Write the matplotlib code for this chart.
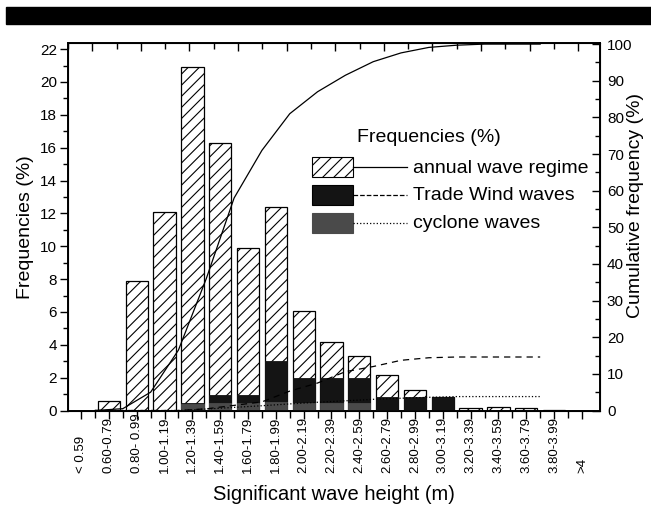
import matplotlib
matplotlib.use("Agg")
from matplotlib import pyplot as plt
from matplotlib.patches import Rectangle
from matplotlib.lines import Line2D
from matplotlib.ticker import MultipleLocator
import numpy as np

plt.rcParams['font.family'] = ['Liberation Sans', 'DejaVu Sans']
plt.rcParams['hatch.linewidth'] = 0.8

# wave height classes (m)
classes = ['< 0.59', '0.60-0.79', '0.80- 0.99', '1.00-1.19', '1.20-1.39',
           '1.40-1.59', '1.60-1.79', '1.80-1.99', '2.00-2.19', '2.20-2.39',
           '2.40-2.59', '2.60-2.79', '2.80-2.99', '3.00-3.19', '3.20-3.39',
           '3.40-3.59', '3.60-3.79', '3.80-3.99', '>4']

# frequencies (%)
annual = [0, 0.55, 7.9, 12.1, 20.9, 16.3, 9.9, 12.4, 6.05, 4.2, 3.3,
          2.15, 1.25, 0.85, 0.18, 0.22, 0.15, 0.05, 0]
trade = [0, 0, 0, 0, 0.45, 0.95, 0.95, 3.0, 1.95, 1.95, 1.95,
         0.85, 0.85, 0.85, 0, 0, 0, 0, 0]
cyclone = [0, 0, 0, 0, 0.4, 0.45, 0.45, 0.5, 0.45, 0.45, 0.45,
           0.05, 0.05, 0, 0, 0, 0, 0, 0]

# cumulative frequency (%) at upper class limits (class index + 0.5)
cum_idx = [0.5, 1.5, 2.5, 3.5, 4.5, 5.5, 6.5, 7.5, 8.5, 9.5, 10.5,
           11.5, 12.5, 13.5, 14.5, 15.5, 16.5]
cum_annual = [0, 0.5, 5, 16.5, 36, 58, 71, 81, 87, 91.5, 95.2,
              97.6, 99.1, 99.7, 100, 100, 100]
cum_trade = [0, 0, 0, 0, 0.45, 1.4, 2.35, 5.3, 7.5, 10.6, 12.0,
             13.7, 14.4, 14.6, 14.6, 14.6, 14.6]
cum_cyclone = [0, 0, 0, 0, 0.4, 0.85, 1.3, 1.8, 2.25, 2.65, 3.05,
               3.35, 3.6, 3.8, 3.8, 3.8, 3.8]

W, H = 651, 505
fig = plt.figure(figsize=(W / 100, H / 100), dpi=100)


def fx(x):
    return x / W


def fy(y):
    return 1 - y / H


# black band at the top of the scanned page
fig.patches.append(Rectangle((fx(6), fy(24)), 1, 17 / H, color='black',
                             transform=fig.transFigure, zorder=0))

ax = fig.add_axes([fx(68), fy(410.5), fx(600) - fx(68), fy(43) - fy(410.5)])
pos = np.arange(len(classes))
bw = 0.8
ax.bar(pos, annual, bw, facecolor='white', edgecolor='black', hatch='///',
       linewidth=0.9, zorder=2)
ax.bar(pos, trade, bw, facecolor='#141414', edgecolor='#141414',
       linewidth=0.6, zorder=3)
ax.bar(pos, cyclone, bw, facecolor='#4a4a4a', edgecolor='#4a4a4a',
       linewidth=0.6, zorder=4)

ax.set_xlim(-0.47, 18.65)
ax.set_ylim(0, 22.37)
ax.yaxis.set_major_locator(MultipleLocator(2))
ax.yaxis.set_minor_locator(MultipleLocator(1))
ax.set_xticks(pos)
ax.set_xticks(pos[:-1] + 0.5, minor=True)
ax.set_xticklabels([])
ax.tick_params(axis='x', which='major', direction='out', length=6, width=1)
ax.tick_params(axis='x', which='minor', direction='out', length=5, width=1)
ax.tick_params(axis='y', which='major', direction='out', length=6, width=1,
               labelsize=11, pad=2)
ax.tick_params(axis='y', which='minor', direction='out', length=3.5, width=1)
for lbl, p in zip(classes, pos):
    ax.text(p, -0.170, lbl, transform=ax.get_xaxis_transform(), rotation=90,
            ha='center', va='bottom', fontsize=9.5)
for s in ax.spines.values():
    s.set_linewidth(1.2)
ax.set_ylabel('Frequencies (%)', fontsize=14, labelpad=4)
fig.text(fx(334), fy(500), 'Significant wave height (m)', ha='center',
         va='baseline', fontsize=14.5)

# top axis with its own ticks
axt = ax.twiny()
axt.set_xlim(-1, 20.9)
axt.xaxis.set_major_locator(MultipleLocator(2))
axt.xaxis.set_minor_locator(MultipleLocator(1))
axt.tick_params(axis='x', which='major', direction='in', length=6, width=1,
                labeltop=False)
axt.tick_params(axis='x', which='minor', direction='in', length=4, width=1)

# cumulative frequency (right axis)
ax2 = ax.twinx()
ax2.plot(cum_idx, cum_annual, '-', color='black', lw=0.9)
ax2.plot(cum_idx, cum_trade, '--', color='black', lw=0.9, dashes=(5, 4))
ax2.plot(cum_idx, cum_cyclone, ':', color='black', lw=0.9)
ax2.set_ylim(0, 100.3)
ax2.yaxis.set_major_locator(MultipleLocator(10))
ax2.yaxis.set_minor_locator(MultipleLocator(5))
ax2.tick_params(axis='y', which='major', direction='in', length=6, width=1,
                labelsize=11, pad=5)
ax2.tick_params(axis='y', which='minor', direction='in', length=3.5, width=1)
for s in ax2.spines.values():
    s.set_linewidth(1.2)
fig.text(fx(636), fy(205), 'Cumulative frequency (%)', rotation=90,
         ha='center', va='center', fontsize=14)

# legend
fig.text(fx(357), fy(138), 'Frequencies (%)', fontsize=14, va='center')
rows = [(167, dict(facecolor='white', edgecolor='black', hatch='///'), '-',
         'annual wave regime'),
        (195, dict(facecolor='#141414', edgecolor='black'), '--',
         'Trade Wind waves'),
        (223, dict(facecolor='#4a4a4a', edgecolor='#4a4a4a'), ':',
         'cyclone waves')]
for yc, style, ls, txt in rows:
    fig.patches.append(Rectangle((fx(312), fy(yc + 10)), 41 / W, 20 / H,
                                 transform=fig.transFigure, lw=0.8, **style))
    fig.lines.append(Line2D([fx(353), fx(407)], [fy(yc), fy(yc)],
                            transform=fig.transFigure, color='black',
                            lw=0.9, ls=ls))
    fig.text(fx(413), fy(yc + 1), txt, fontsize=14, va='center')

fig.savefig('out.png', dpi=100)
